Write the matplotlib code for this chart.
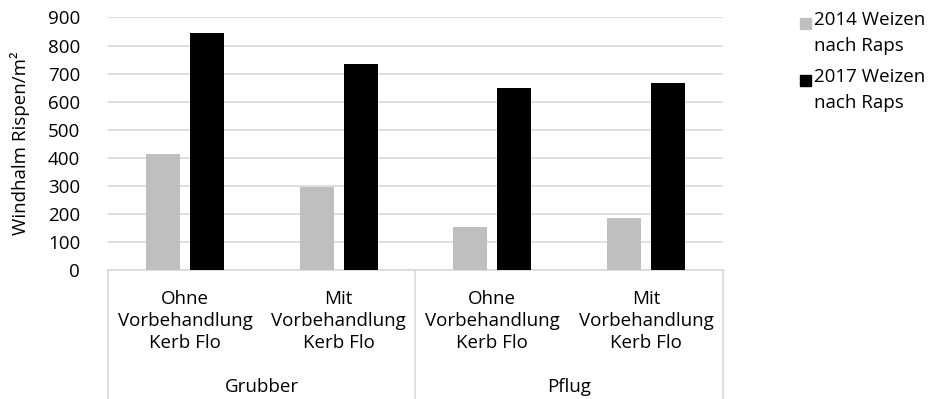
import numpy as np
import matplotlib.pyplot as plt
from matplotlib.patches import Rectangle
from matplotlib.lines import Line2D

plt.rcParams['font.family'] = ['Open Sans', 'DejaVu Sans']

kategorien = ['Ohne\nVorbehandlung\nKerb Flo', 'Mit\nVorbehandlung\nKerb Flo',
              'Ohne\nVorbehandlung\nKerb Flo', 'Mit\nVorbehandlung\nKerb Flo']
gruppen = ['Grubber', 'Pflug']
serien = ['2014 Weizen\nnach Raps', '2017 Weizen\nnach Raps']
w2014 = [415, 295, 155, 185]
w2017 = [845, 735, 650, 668]
farben = ['#bfbfbf', '#000000']

W, H = 935, 399
fs = 13.5
fig = plt.figure(figsize=(W / 100, H / 100), dpi=100)
ax = fig.add_axes([108 / W, (H - 270) / H, (723 - 108) / W, (270 - 17.5) / H])

x = np.arange(len(kategorien))
bw = 0.22
ax.bar(x - 0.143, w2014, bw, color=farben[0], zorder=3)
ax.bar(x + 0.143, w2017, bw, color=farben[1], zorder=3)

ax.set_xlim(-0.5, len(kategorien) - 0.5)
ax.set_ylim(0, 900)
ax.set_yticks(range(0, 901, 100))
ax.yaxis.grid(True, color='#d9d9d9', linewidth=1.2)
ax.set_axisbelow(True)
ax.tick_params(axis='y', length=0, labelsize=fs, pad=20)
ax.set_xticks([])
for s in ['top', 'right', 'left']:
    ax.spines[s].set_visible(False)
ax.spines['bottom'].set_color('#d9d9d9')
ax.spines['bottom'].set_linewidth(1.2)
ax.set_ylabel('Windhalm Rispen/m²', fontsize=fs, labelpad=13)

# category labels and separators below the axis
trans = ax.get_xaxis_transform()
for i, lab in enumerate(kategorien):
    ax.text(i, -51 / 252.5, lab, transform=trans, ha='center', va='center',
            fontsize=fs, linespacing=1.28)
for j, g in enumerate(gruppen):
    ax.text(2 * j + 0.5, -117 / 252.5, g, transform=trans, ha='center', va='center', fontsize=fs)
for xs in [-0.5, 1.5, 3.5]:
    ax.add_line(Line2D([xs, xs], [0, -0.52], transform=trans, color='#d9d9d9',
                       linewidth=1.2, clip_on=False))

# legend
for k, (name, c) in enumerate(zip(serien, farben)):
    yc = (H - 23 - k * 57) / H
    fig.patches.append(Rectangle((800 / W, yc - 6 / H), 11 / W, 11 / H,
                                 transform=fig.transFigure, color=c))
    fig.text(814 / W, yc + 12 / H, name, ha='left', va='top', fontsize=fs, linespacing=1.55)

fig.savefig('out.png', dpi=100)
